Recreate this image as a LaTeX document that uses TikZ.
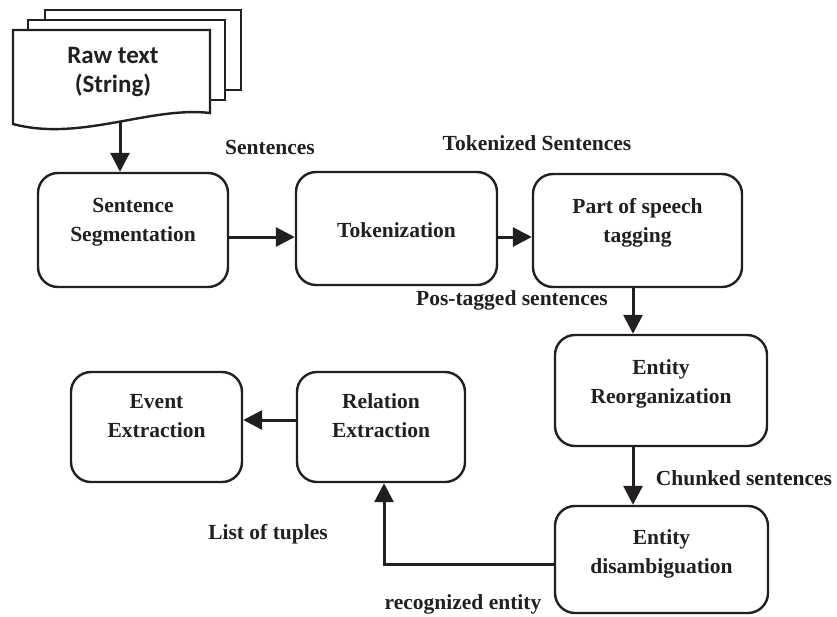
\documentclass[tikz,border=0pt]{standalone}
\usepackage{fontspec}
\setmainfont{Liberation Serif}
\newfontfamily\docfont{Carlito}
\usetikzlibrary{arrows.meta}
\definecolor{ink}{HTML}{231F20}
% two centred lines, lifted by #1 without changing the node's own size
\newcommand{\twolines}[3]{\raisebox{#1}[0pt][0pt]{\begin{tabular}{@{}c@{}}#2\\#3\end{tabular}}}
\tikzset{
  stage/.style={draw=ink, line width=2.4pt, rounded corners=20pt, fill=white,
    text=ink, font=\bfseries\fontsize{21.5}{29}\selectfont, align=center,
    inner sep=0pt},
  flow/.style={draw=ink, line width=3pt, -{Triangle[length=19pt,width=19pt]}},
  tag/.style={text=ink, font=\bfseries\fontsize{21.5}{24}\selectfont, inner sep=0pt},
  page/.style={draw=ink, line width=2.4pt, fill=white},
}
\begin{document}
\begin{tikzpicture}[x=1pt,y=-1pt]
  \useasboundingbox (0,0) rectangle (837,616);

  % stacked input document
  \draw[page] (45,90) -- (45,10) -- (241,10) -- (241,90) -- cycle;
  \draw[page] (28,100) -- (28,20) -- (225,20) -- (225,100) -- cycle;
  \draw[page] (13,124) -- (13,30) -- (210,30) -- (210,113)
     .. controls (150,106) and (80,142) .. cycle;
  \node[text=ink, font=\docfont\bfseries\fontsize{25}{29}\selectfont, align=center]
     (raw) at (113,72) {Raw text\\(String)};
  \coordinate (rawout) at (120,121);

  % processing stages
  \node[stage, minimum width=190pt, minimum height=114pt] (seg) at (133,230)
     {\twolines{4pt}{Sentence}{Segmentation}};
  \node[stage, minimum width=201pt, minimum height=113pt] (tok) at (396.5,228.5)
     {\raisebox{-9pt}[0pt][0pt]{Tokenization}};
  \node[stage, minimum width=209pt, minimum height=113pt] (pos) at (637.5,230.5)
     {\twolines{3.6pt}{Part of speech}{tagging}};
  \node[stage, minimum width=212pt, minimum height=111pt] (reorg) at (661,390.5)
     {\twolines{2.6pt}{Entity}{Reorganization}};
  \node[stage, minimum width=213pt, minimum height=107pt] (dis) at (661.5,559.5)
     {\twolines{1.6pt}{Entity}{disambiguation}};
  \node[stage, minimum width=168pt, minimum height=110pt] (rel) at (381,427)
     {\twolines{4.6pt}{Relation}{Extraction}};
  \node[stage, minimum width=171pt, minimum height=110pt] (evt) at (156.5,427)
     {\twolines{4.6pt}{Event}{Extraction}};

  % connectors
  \draw[flow] (rawout) -- (rawout |- seg.north);
  \draw[flow] (seg.east |- 0,237) -- (tok.west |- 0,237);
  \draw[flow] (tok.east |- 0,237) -- (pos.west |- 0,237);
  \draw[flow] (pos.south -| 633,0) -- (reorg.north -| 633,0);
  \draw[flow] (reorg.south -| 633,0) -- (dis.north -| 633,0);
  \draw[flow] (dis.west |- 0,564) -| (rel.south -| 384,0);
  \draw[flow] (rel.west |- 0,420) -- (evt.east |- 0,420);

  % data labels
  \node[tag] (l1) at (270,147) {Sentences};
  \node[tag] (l2) at (537,143) {Tokenized Sentences};
  \node[tag] (l3) at (512,300) {Pos-tagged sentences};
  \node[tag] (l4) at (744,478) {Chunked sentences};
  \node[tag] (l5) at (268,534) {List of tuples};
  \node[tag] (l6) at (463,604) {recognized entity};
\end{tikzpicture}
\end{document}
